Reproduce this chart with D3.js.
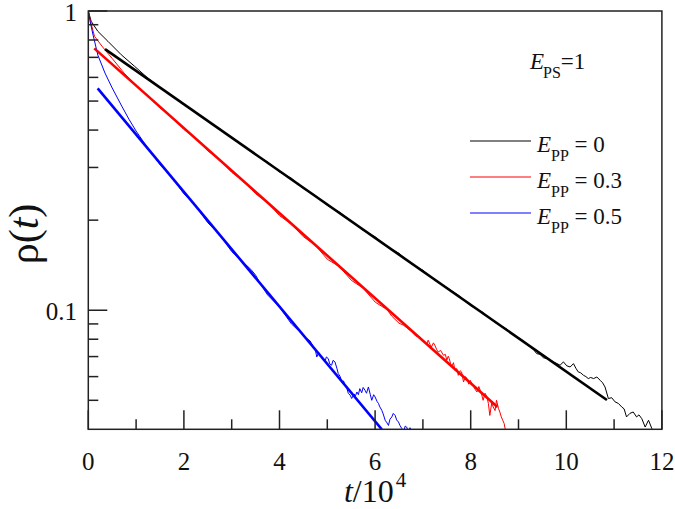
<!DOCTYPE html>
<html><head><meta charset="utf-8">
<script src="https://cdn.jsdelivr.net/npm/d3@7"></script>
<style>html,body{margin:0;padding:0;background:#fff;}svg{display:block;}</style>
</head><body>
<script>
// ---- data (t in units of 10^4, rho) ----
const simBlack = [[0,1.0],[0.06,0.924],[0.2,0.855],[0.41,0.792],[0.69,0.714],[0.97,0.653],[1.25,0.596],[1.5,0.556],[1.75,0.522],[2.0,0.486],[2.25,0.459],[2.5,0.428],[2.75,0.404],[3.0,0.376],[3.25,0.355],[3.5,0.330],[3.75,0.313],[4.0,0.290],[4.25,0.276],[4.5,0.255],[4.75,0.242],[5.0,0.224],[5.25,0.213],[5.5,0.199],[5.75,0.185],[6.0,0.176],[6.25,0.163],[6.5,0.155],[6.75,0.143],[7.0,0.136],[7.25,0.126],[7.5,0.119],[7.75,0.112],[8.0,0.1035],[8.25,0.0985],[8.5,0.0912],[8.75,0.0866],[8.9,0.0826],[9.03,0.0804],[9.1,0.0790],[9.17,0.0772],[9.24,0.0754],[9.31,0.0740],[9.38,0.0716],[9.45,0.0712],[9.52,0.0694],[9.59,0.0689],[9.66,0.0684],[9.73,0.0672],[9.8,0.0664],[9.87,0.0655],[9.94,0.0672],[10.01,0.0652],[10.08,0.0646],[10.15,0.0663],[10.2,0.0640],[10.25,0.0622],[10.3,0.0618],[10.36,0.0606],[10.41,0.0600],[10.46,0.0591],[10.51,0.0596],[10.57,0.0591],[10.64,0.0598],[10.71,0.0583],[10.76,0.0572],[10.81,0.0554],[10.88,0.0507],[10.95,0.0510],[11.02,0.0494],[11.09,0.0488],[11.16,0.0475],[11.21,0.0468],[11.26,0.0440],[11.33,0.0452],[11.40,0.0457],[11.47,0.0440],[11.52,0.0447],[11.58,0.0434],[11.65,0.0407],[11.72,0.0429],[11.79,0.0402],[11.83,0.0385]];
const simRed = [[0,1.0],[0.05,0.919],[0.13,0.823],[0.3,0.758],[0.5,0.694],[0.75,0.620],[1.0,0.564],[1.25,0.521],[1.5,0.475],[1.75,0.441],[2.0,0.402],[2.25,0.375],[2.5,0.341],[2.75,0.318],[3.0,0.289],[3.25,0.270],[3.5,0.245],[3.75,0.229],[4.0,0.207],[4.25,0.194],[4.5,0.176],[4.75,0.165],[5.0,0.148],[5.25,0.140],[5.5,0.126],[5.75,0.1185],[6.0,0.1065],[6.1,0.1040],[6.25,0.1005],[6.35,0.0955],[6.5,0.0905],[6.6,0.0890],[6.75,0.0852],[6.85,0.0820],[6.94,0.0814],[6.99,0.0790],[7.04,0.0783],[7.08,0.0770],[7.11,0.0794],[7.15,0.0768],[7.18,0.0754],[7.22,0.0778],[7.25,0.0764],[7.29,0.0738],[7.32,0.0725],[7.37,0.0734],[7.43,0.0707],[7.47,0.0712],[7.50,0.0681],[7.53,0.0702],[7.55,0.0690],[7.58,0.0662],[7.60,0.0646],[7.64,0.0668],[7.67,0.0630],[7.71,0.0638],[7.74,0.0606],[7.78,0.0628],[7.81,0.0622],[7.83,0.0598],[7.85,0.0576],[7.89,0.0600],[7.92,0.0591],[7.96,0.0566],[7.99,0.0583],[8.02,0.0570],[8.05,0.0561],[8.09,0.0545],[8.13,0.0533],[8.17,0.0556],[8.20,0.0540],[8.23,0.0522],[8.26,0.0500],[8.30,0.0528],[8.34,0.0513],[8.37,0.0488],[8.40,0.0445],[8.44,0.0490],[8.47,0.0475],[8.51,0.0462],[8.54,0.0500],[8.58,0.0470],[8.61,0.0457],[8.64,0.0440],[8.67,0.0429],[8.70,0.0418],[8.72,0.0402],[8.75,0.0388]];
const simBlue = [[0,1.0],[0.04,0.919],[0.1,0.831],[0.2,0.712],[0.35,0.620],[0.5,0.553],[0.7,0.481],[0.85,0.435],[1.0,0.397],[1.25,0.347],[1.5,0.307],[1.75,0.278],[2.0,0.245],[2.25,0.223],[2.5,0.196],[2.75,0.179],[3.0,0.157],[3.25,0.144],[3.4,0.137],[3.5,0.131],[3.6,0.1225],[3.75,0.1125],[4.0,0.1025],[4.25,0.0900],[4.43,0.0846],[4.5,0.0822],[4.57,0.0804],[4.64,0.0790],[4.71,0.0754],[4.75,0.0736],[4.78,0.0698],[4.82,0.0722],[4.85,0.0707],[4.9,0.0690],[4.95,0.0672],[4.98,0.0698],[5.02,0.0689],[5.05,0.0662],[5.09,0.0655],[5.12,0.0680],[5.16,0.0672],[5.2,0.0640],[5.23,0.0614],[5.27,0.0600],[5.30,0.0576],[5.34,0.0580],[5.37,0.0561],[5.41,0.0548],[5.44,0.0527],[5.48,0.0520],[5.51,0.0507],[5.56,0.0525],[5.59,0.0518],[5.62,0.0533],[5.65,0.0522],[5.68,0.0547],[5.72,0.0530],[5.75,0.0552],[5.79,0.0540],[5.82,0.0528],[5.86,0.0554],[5.9,0.0522],[5.93,0.0500],[5.97,0.0522],[6.00,0.0513],[6.04,0.0496],[6.07,0.0488],[6.1,0.0475],[6.14,0.0463],[6.17,0.0450],[6.21,0.0429],[6.25,0.0420],[6.28,0.0412],[6.31,0.0432],[6.35,0.0440],[6.38,0.0452],[6.42,0.0445],[6.45,0.0430],[6.49,0.0423],[6.52,0.0412],[6.56,0.0402],[6.6,0.0395],[6.63,0.0410],[6.66,0.0407],[6.7,0.0392],[6.73,0.0405],[6.78,0.0385]];
const fitBlack = [[0.35,0.746],[10.85,0.0501]];
const fitRed = [[0.125,0.750],[8.56,0.0475]];
const fitBlue = [[0.196,0.551],[6.14,0.0400]];
const legendLabels = ["0","0.3","0.5"];
const seriesColors = ["#000000","#ff0000","#0000ff"];
const xTicks = [0,1,2,3,4,5,6,7,8,9,10,11,12];
const xTickLabels = [0,2,4,6,8,10,12];
const yMajor = [1,0.1];
const yMinor = [0.9,0.8,0.7,0.6,0.5,0.4,0.3,0.2,0.09,0.08,0.07,0.06,0.05];

// ---- layout ----
const W=675,H=509;
const L=88.3,R=661.9,T=11,B=429.3;
const x = d3.scaleLinear().domain([0,12]).range([L,R]);
const y = d3.scaleLog().domain([0.04,1]).range([B,T]);
const FONT = "Liberation Serif, Liberation Sans, Arial, sans-serif";

const svg = d3.select("body").append("svg").attr("width",W).attr("height",H)
  .attr("font-family",FONT);

svg.append("defs").append("clipPath").attr("id","clip")
  .append("rect").attr("x",L).attr("y",T).attr("width",R-L).attr("height",B-T);

const line = d3.line().x(d=>x(d[0])).y(d=>y(d[1]));
const plot = svg.append("g").attr("clip-path","url(#clip)");

[simBlack,simRed,simBlue].forEach((s,i)=>{
  plot.append("path").datum(s).attr("d",line).attr("fill","none")
    .attr("stroke",seriesColors[i]).attr("stroke-width",1).attr("stroke-linejoin","round");
});
[fitBlack,fitRed,fitBlue].forEach((s,i)=>{
  plot.append("path").datum(s).attr("d",line).attr("fill","none")
    .attr("stroke",seriesColors[i]).attr("stroke-width",2.6);
});

// frame
const axCol="#222";
svg.append("rect").attr("x",L).attr("y",T).attr("width",R-L).attr("height",B-T)
  .attr("fill","none").attr("stroke",axCol).attr("stroke-width",1.5);

// x ticks (inward)
svg.append("g").selectAll("line").data(xTicks).join("line")
  .attr("x1",d=>x(d)).attr("x2",d=>x(d))
  .attr("y1",B).attr("y2",d=>B-(d%2===0?19:10))
  .attr("stroke",axCol).attr("stroke-width",1.5);
svg.append("g").selectAll("text").data(xTickLabels).join("text")
  .attr("x",d=>x(d)).attr("y",470).attr("text-anchor","middle")
  .attr("font-size",25).attr("fill","#111").text(d=>d);

// y ticks (inward)
svg.append("g").selectAll("line").data(yMinor).join("line")
  .attr("x1",L).attr("x2",L+10).attr("y1",d=>y(d)).attr("y2",d=>y(d))
  .attr("stroke",axCol).attr("stroke-width",1.5);
svg.append("g").selectAll("line").data(yMajor).join("line")
  .attr("x1",L).attr("x2",L+19).attr("y1",d=>y(d)).attr("y2",d=>y(d))
  .attr("stroke",axCol).attr("stroke-width",1.5);
svg.append("g").selectAll("text").data(yMajor).join("text")
  .attr("x",77).attr("y",d=>y(d)+10).attr("text-anchor","end")
  .attr("font-size",25).attr("fill","#111").text(d=>d);

// axis titles
const xt = svg.append("text").attr("x",(L+R)/2).attr("y",502).attr("text-anchor","middle")
  .attr("font-size",32).attr("fill","#111");
xt.append("tspan").attr("font-style","italic").text("t");
xt.append("tspan").text("/10");
xt.append("tspan").attr("font-size",21).attr("dy",-15).attr("dx",2).text("4");

const yt = svg.append("text").attr("transform","translate(38,234) rotate(-90)")
  .attr("text-anchor","middle").attr("font-size",42).attr("fill","#111");
yt.append("tspan").text("ρ(");
yt.append("tspan").attr("font-style","italic").text("t");
yt.append("tspan").text(")");

// E_PS = 1
const ep = svg.append("text").attr("x",530).attr("y",69).attr("font-size",23).attr("fill","#111");
ep.append("tspan").attr("font-style","italic").text("E");
ep.append("tspan").attr("font-size",16).attr("dy",9).attr("dx",-1).text("PS");
ep.append("tspan").attr("dy",-9).text("=1");

// legend
const lg = svg.append("g");
legendLabels.forEach((lab,i)=>{
  const ly = 141 + i*36;
  lg.append("line").attr("x1",470).attr("x2",531).attr("y1",ly).attr("y2",ly)
    .attr("stroke",seriesColors[i]).attr("stroke-width",1);
  const t = lg.append("text").attr("x",537).attr("y",ly+10.5).attr("font-size",23).attr("fill","#111");
  t.append("tspan").attr("font-style","italic").text("E");
  t.append("tspan").attr("font-size",16).attr("dy",9).attr("dx",0).text("PP");
  t.append("tspan").attr("dy",-9).text(" = "+lab);
});
</script>
</body></html>
